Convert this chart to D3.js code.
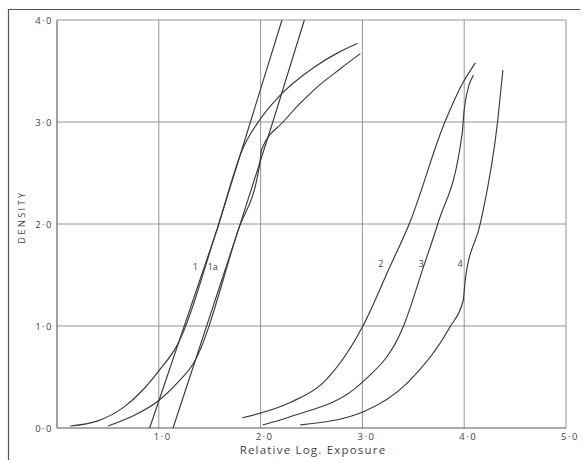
<!DOCTYPE html>
<html>
<head>
<meta charset="utf-8">
<script src="https://cdn.jsdelivr.net/npm/d3@7"></script>
<style>
    body { margin: 0; background: #fff; }
    #chart { width: 585px; height: 462px; }
    text { font-family: "Open Sans", "DejaVu Sans", sans-serif; fill: #444; }
</style>
</head>
<body>
<div id="chart"></div>
<script>

// tick values and labels
const xTicks = [1, 2, 3, 4, 5];
const xTickLabels = ["1·0", "2·0", "3·0", "4·0", "5·0"];
const yTicks = [0, 1, 2, 3, 4];
const yTickLabels = ["0·0", "1·0", "2·0", "3·0", "4·0"];

// characteristic curves [log exposure, density]
const curve1 = [[0.13, 0.02], [0.40, 0.07], [0.65, 0.20], [0.85, 0.38], [1.00, 0.56], [1.18, 0.81],
                [1.57, 1.94], [1.83, 2.75], [1.99, 3.02], [2.17, 3.24], [2.53, 3.54], [2.78, 3.69], [2.95, 3.77]];
const curve1a = [[0.50, 0.02], [0.75, 0.12], [1.00, 0.27], [1.18, 0.44], [1.35, 0.65], [1.78, 1.94],
                 [1.99, 2.58], [2.01, 2.73], [2.22, 3.00], [2.53, 3.32], [2.78, 3.52], [2.98, 3.67]];
const line1 = [[0.91, 0.00], [1.57, 1.94], [1.90, 3.00], [2.21, 4.00]];
const line1a = [[1.14, 0.00], [1.78, 1.94], [2.12, 3.00], [2.43, 4.00]];
const curve2 = [[1.82, 0.10], [2.29, 0.25], [2.61, 0.44], [3.00, 0.99], [3.27, 1.58], [3.46, 2.00],
                [3.81, 3.00], [3.99, 3.39], [4.11, 3.58]];
const curve3 = [[2.02, 0.03], [2.29, 0.11], [3.00, 0.45], [3.40, 0.99], [3.60, 1.58], [3.74, 2.00],
                [3.98, 2.89], [4.00, 3.12], [4.09, 3.46]];
const curve4 = [[2.39, 0.03], [3.01, 0.16], [3.44, 0.44], [3.86, 0.99], [3.99, 1.25], [4.01, 1.45],
                [4.16, 2.01], [4.33, 3.02], [4.38, 3.51]];

// curve labels
const labelNames = ["1", "1a", "2", "3", "4"];
const labelX = [1.36, 1.53, 3.18, 3.58, 3.96];
const labelY = [1.55, 1.55, 1.58, 1.58, 1.58];

class DensityChart {

    constructor(parentElement) {
        this.parentElement = parentElement;
        this.initVis();
    }

    initVis() {
        let vis = this;

        vis.margin = {top: 20, right: 19, bottom: 34, left: 57};
        vis.width = 585 - vis.margin.left - vis.margin.right;
        vis.height = 462 - vis.margin.top - vis.margin.bottom;

        vis.root = d3.select("#" + vis.parentElement).append("svg")
            .attr("width", 585)
            .attr("height", 462);

        // outer frame (only top and left survive in the print)
        vis.root.append("path")
            .attr("d", "M8.5,460 L8.5,9.5 L580,9.5")
            .attr("fill", "none")
            .attr("stroke", "#555")
            .attr("stroke-width", 1.2);

        vis.svg = vis.root.append("g")
            .attr("transform", "translate(" + vis.margin.left + "," + vis.margin.top + ")");

        vis.x = d3.scaleLinear().domain([0, 5]).range([0, vis.width]);
        vis.y = d3.scaleLinear().domain([0, 4]).range([vis.height, 0]);

        vis.updateVis();
    }

    updateVis() {
        let vis = this;

        // grid
        vis.svg.selectAll(".vgrid")
            .data(xTicks)
            .enter().append("line")
            .attr("class", "vgrid")
            .attr("x1", d => vis.x(d)).attr("x2", d => vis.x(d))
            .attr("y1", vis.y(0)).attr("y2", vis.y(4))
            .attr("stroke", "#888").attr("stroke-width", 0.9);

        vis.svg.selectAll(".hgrid")
            .data(yTicks)
            .enter().append("line")
            .attr("class", "hgrid")
            .attr("x1", vis.x(0)).attr("x2", vis.x(5))
            .attr("y1", d => vis.y(d)).attr("y2", d => vis.y(d))
            .attr("stroke", d => d === 0 ? "#555" : "#888")
            .attr("stroke-width", d => d === 0 ? 1.1 : 0.9);

        vis.svg.append("line")
            .attr("x1", vis.x(0)).attr("x2", vis.x(0))
            .attr("y1", vis.y(0)).attr("y2", vis.y(4))
            .attr("stroke", "#555").attr("stroke-width", 1.1);

        // tick labels
        vis.svg.selectAll(".xlab")
            .data(xTicks)
            .enter().append("text")
            .attr("class", "xlab")
            .attr("x", d => vis.x(d) + 4)
            .attr("y", vis.height + 12)
            .attr("text-anchor", "middle")
            .attr("font-size", 9.5)
            .attr("letter-spacing", 1.5)
            .text((d, i) => xTickLabels[i]);

        vis.svg.selectAll(".ylab")
            .data(yTicks)
            .enter().append("text")
            .attr("class", "ylab")
            .attr("x", -4)
            .attr("y", d => vis.y(d) + 3.5)
            .attr("text-anchor", "end")
            .attr("font-size", 9.5)
            .attr("letter-spacing", 1.5)
            .text((d, i) => yTickLabels[i]);

        // axis titles
        vis.svg.append("text")
            .attr("x", 256)
            .attr("y", vis.height + 26)
            .attr("text-anchor", "middle")
            .attr("font-size", 11.5)
            .attr("letter-spacing", 1.2)
            .text("Relative Log. Exposure");

        vis.root.append("text")
            .attr("transform", "translate(25,217) rotate(-90)")
            .attr("text-anchor", "middle")
            .attr("font-size", 9)
            .attr("letter-spacing", 2.5)
            .text("DENSITY");

        // curves
        vis.smooth = d3.line()
            .x(d => vis.x(d[0]))
            .y(d => vis.y(d[1]))
            .curve(d3.curveMonotoneX);

        vis.straight = d3.line()
            .x(d => vis.x(d[0]))
            .y(d => vis.y(d[1]));

        [curve1, curve1a, curve2, curve3, curve4].forEach(c => {
            vis.svg.append("path")
                .datum(c)
                .attr("d", vis.smooth)
                .attr("fill", "none")
                .attr("stroke", "#3a3a3a")
                .attr("stroke-width", 1.15);
        });

        [line1, line1a].forEach(c => {
            vis.svg.append("path")
                .datum(c)
                .attr("d", vis.straight)
                .attr("fill", "none")
                .attr("stroke", "#3a3a3a")
                .attr("stroke-width", 1.15);
        });

        // curve numbers
        vis.svg.selectAll(".clab")
            .data(labelNames)
            .enter().append("text")
            .attr("class", "clab")
            .attr("x", (d, i) => vis.x(labelX[i]))
            .attr("y", (d, i) => vis.y(labelY[i]))
            .attr("text-anchor", "middle")
            .attr("font-size", 9)
            .text(d => d);
    }
}

new DensityChart("chart");

</script>
</body>
</html>
